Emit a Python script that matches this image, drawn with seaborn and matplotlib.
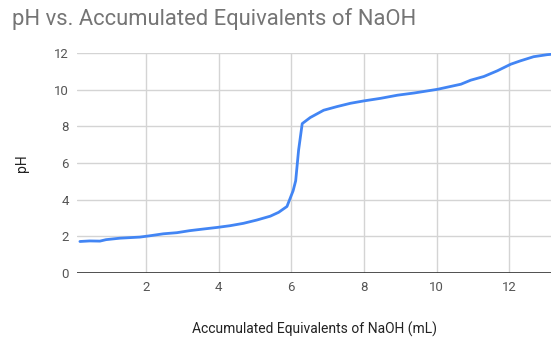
import numpy as np
import pandas as pd
import matplotlib
matplotlib.use('Agg')
import matplotlib.pyplot as plt
import seaborn as sns

# Titration readings (estimated from the reference chart)
naoh_ml = [0.18, 0.45, 0.73, 0.9, 1.28, 1.83, 2.1, 2.48, 2.85, 3.2, 3.58, 3.97, 4.31,
           4.68, 5.05, 5.42, 5.65, 5.88, 6.05, 6.12, 6.2, 6.3, 6.52, 6.89, 7.26, 7.63,
           8.0, 8.46, 8.92, 9.38, 10.02, 10.67, 10.94, 11.3, 11.67, 12.04, 12.3, 12.67,
           13.04, 13.15]
ph = [1.72, 1.75, 1.74, 1.82, 1.90, 1.96, 2.03, 2.14, 2.20, 2.31, 2.40, 2.49, 2.58,
      2.71, 2.89, 3.10, 3.31, 3.63, 4.49, 5.03, 6.70, 8.15, 8.48, 8.88, 9.08, 9.26,
      9.39, 9.53, 9.70, 9.82, 10.02, 10.30, 10.52, 10.72, 11.03, 11.39, 11.57, 11.80,
      11.91, 11.93]
x_ticks = [2, 4, 6, 8, 10, 12]
y_ticks = [0, 2, 4, 6, 8, 10, 12]

df = pd.DataFrame({'NaOH': naoh_ml, 'pH': ph})

sns.set_style('white')
plt.rcParams['font.family'] = ['Roboto', 'DejaVu Sans']

fig = plt.figure(figsize=(5.6, 3.4), dpi=100)
ax = fig.add_axes([0.1375, 0.197, 0.8465, 0.647])
sns.lineplot(data=df, x='NaOH', y='pH', ax=ax, color='#4285F4', linewidth=2)

ax.set_xlim(0.1, 13.15)
ax.set_ylim(0, 12)
ax.set_xticks(x_ticks)
ax.set_yticks(y_ticks)
ax.grid(True, color='#d4d4d4', linewidth=1)
ax.axhline(0, color='#333333', linewidth=1.2)
for s in ax.spines.values():
    s.set_visible(False)
ax.tick_params(axis='both', length=0, labelsize=9.5, colors='#555555', pad=6)

ax.set_xlabel('Accumulated Equivalents of NaOH (mL)', fontsize=10, color='#222222', labelpad=20)
ax.set_ylabel('pH', fontsize=10, color='#222222', labelpad=18)
fig.text(0.021, 0.945, 'pH vs. Accumulated Equivalents of NaOH', fontsize=15.8,
         color='#757575', va='center', ha='left')

fig.savefig('out.png', dpi=100)
